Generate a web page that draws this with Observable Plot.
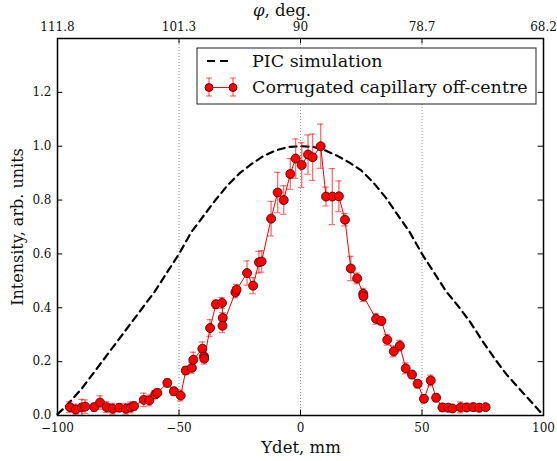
<!DOCTYPE html>
<html><head><meta charset="utf-8">
<script src="https://cdn.jsdelivr.net/npm/d3@7"></script>
<script src="https://cdn.jsdelivr.net/npm/@observablehq/plot@0.6"></script>
<style>body{margin:0;background:#fff} svg{display:block}</style>
</head><body><div id="chart"></div>
<script>
// Measured data: Corrugated capillary off-centre
const ydet = [-94.9, -92.5, -90.0, -88.6, -84.9, -82.5, -79.8, -77.3, -74.6, -71.9,
  -69.8, -68.5, -64.5, -62.2, -59.8, -58.9, -54.8, -52.1, -49.3, -47.2,
  -44.7, -44.1, -40.4, -39.7, -39.6, -37.2, -34.8, -32.3, -32.0, -32.1,
  -26.8, -26.3, -22.0, -19.5, -17.1, -16.0, -12.1, -9.4, -6.9, -4.2,
  -2.0, 0.5, 3.1, 5.0, 8.3, 10.5, 13.1, 15.8, 18.3, 20.7,
  23.3, 25.8, 25.9, 31.1, 33.3, 35.7, 38.4, 40.9, 43.3, 45.9,
  48.2, 50.8, 53.6, 55.8, 58.4, 60.8, 62.6, 65.9, 68.4, 71.1,
  73.6, 76.2];
const intensity = [0.031, 0.022, 0.030, 0.033, 0.031, 0.048, 0.031, 0.025, 0.029, 0.025,
  0.030, 0.035, 0.058, 0.056, 0.078, 0.084, 0.121, 0.090, 0.074, 0.167,
  0.177, 0.207, 0.248, 0.219, 0.211, 0.325, 0.413, 0.418, 0.362, 0.333,
  0.457, 0.467, 0.529, 0.482, 0.569, 0.572, 0.731, 0.828, 0.800, 0.897,
  0.954, 0.930, 0.969, 0.959, 1.000, 0.813, 0.813, 0.814, 0.727, 0.546,
  0.509, 0.452, 0.443, 0.359, 0.351, 0.281, 0.238, 0.259, 0.175, 0.152,
  0.118, 0.062, 0.130, 0.066, 0.030, 0.029, 0.026, 0.030, 0.030, 0.031,
  0.029, 0.031];
const errors = [0.02, 0.02, 0.03, 0.025, 0.015, 0.025, 0.02, 0.02, 0.015, 0.02,
  0.02, 0.015, 0.025, 0.02, 0.015, 0.015, 0.015, 0.015, 0.02, 0.015,
  0.02, 0.028, 0.025, 0.02, 0.02, 0.031, 0.015, 0.02, 0.02, 0.025,
  0.02, 0.02, 0.045, 0.03, 0.04, 0.04, 0.064, 0.075, 0.053, 0.057,
  0.073, 0.083, 0.073, 0.086, 0.082, 0.035, 0.104, 0.057, 0.023, 0.045,
  0.02, 0.02, 0.02, 0.02, 0.015, 0.02, 0.02, 0.02, 0.02, 0.015,
  0.015, 0.015, 0.02, 0.015, 0.015, 0.015, 0.01, 0.02, 0.015, 0.015,
  0.015, 0.01];

// PIC simulation curve
const picX = [-100, -97, -95, -90, -85, -80, -75, -70, -65, -60, -55, -50, -45, -40, -35, -30, -25, -20, -15, -10, -5, 0,
  5, 10, 15, 20, 25, 30, 35, 40, 45, 50, 55, 60, 65, 70, 75, 80, 85, 90, 95, 100];
const picY = [0.005, 0.03, 0.05, 0.10, 0.16, 0.22, 0.28, 0.34, 0.40, 0.46, 0.53, 0.60, 0.68, 0.74, 0.80, 0.855, 0.90, 0.935, 0.965, 0.985, 0.997, 1.0,
  0.998, 0.985, 0.965, 0.94, 0.91, 0.865, 0.81, 0.745, 0.68, 0.60, 0.53, 0.46, 0.405, 0.345, 0.275, 0.21, 0.15, 0.10, 0.05, 0.0];

const xTicks = [-100, -50, 0, 50, 100];
const xTickLabels = ["\u2212100", "\u221250", "0", "50", "100"];
const phiTickLabels = ["111.8", "101.3", "90", "78.7", "68.2"];
const gridX = [-50, 0, 50];
const yTicks = [0, 0.2, 0.4, 0.6, 0.8, 1.0, 1.2];
const yTickLabels = ["0.0", "0.2", "0.4", "0.6", "0.8", "1.0", "1.2"];

const meas = ydet.map((x, i) => ({x, y: intensity[i], e: errors[i]}));
const pic = picX.map((x, i) => ({x, y: picY[i]}));

const FONT = "DejaVu Serif";
const capHalf = 1.3;   // half cap width in x units
const tickLenX = 2.2;  // inward y-tick length in x units
const tickLenY = 0.02; // inward x-tick length in y units

const plot = Plot.plot({
  width: 557, height: 461,
  marginLeft: 57, marginRight: 14, marginTop: 38, marginBottom: 46,
  style: {fontFamily: FONT, fontSize: "12px", color: "#111", background: "#fff"},
  x: {domain: [-100, 100], axis: null},
  y: {domain: [0, 1.4], axis: null},
  marks: [
    Plot.ruleX(gridX, {x: d => d, stroke: "#777", strokeWidth: 0.8, strokeDasharray: "1,2"}),
    Plot.line(pic, {x: "x", y: "y", stroke: "black", strokeWidth: 2.2, strokeDasharray: "7,5"}),
    Plot.ruleX(meas, {x: "x", y1: d => d.y - d.e, y2: d => d.y + d.e, stroke: "red", strokeOpacity: 0.55, strokeWidth: 1.4}),
    Plot.ruleY(meas, {y: d => d.y + d.e, x1: d => d.x - capHalf, x2: d => d.x + capHalf, stroke: "red", strokeOpacity: 0.55, strokeWidth: 1.2}),
    Plot.ruleY(meas, {y: d => d.y - d.e, x1: d => d.x - capHalf, x2: d => d.x + capHalf, stroke: "red", strokeOpacity: 0.55, strokeWidth: 1.2}),
    Plot.line(meas, {x: "x", y: "y", stroke: "red", strokeWidth: 1}),
    Plot.dot(meas, {x: "x", y: "y", r: 4.5, fill: "red", stroke: "#3a0000", strokeWidth: 0.8}),
    // inward ticks
    Plot.ruleX(xTicks, {x: d => d, y1: 0, y2: tickLenY, stroke: "black"}),
    Plot.ruleX(xTicks, {x: d => d, y1: 1.4, y2: 1.4 - tickLenY, stroke: "black"}),
    Plot.ruleY(yTicks, {y: d => d, x1: -100, x2: -100 + tickLenX, stroke: "black"}),
    Plot.ruleY(yTicks, {y: d => d, x1: 100, x2: 100 - tickLenX, stroke: "black"}),
    Plot.axisX({anchor: "bottom", ticks: xTicks, tickSize: 0, tickPadding: 8, fontSize: 12,
      tickFormat: d => xTickLabels[xTicks.indexOf(d)], label: null}),
    Plot.axisX({anchor: "top", ticks: xTicks, tickSize: 0, tickPadding: 8, fontSize: 12,
      tickFormat: d => phiTickLabels[xTicks.indexOf(d)], label: null}),
    Plot.axisY({anchor: "left", ticks: yTicks, tickSize: 0, tickPadding: 6, fontSize: 12,
      tickFormat: d => yTickLabels[yTicks.indexOf(d)], label: null}),
    Plot.frame({stroke: "black", strokeWidth: 1.5})
  ]
});

const svg = d3.select(plot);
// axis titles
const topTitle = svg.append("text").attr("x", 282).attr("y", 16).attr("text-anchor", "middle")
  .attr("font-family", FONT).attr("font-size", 16.5).attr("fill", "#111");
topTitle.append("tspan").attr("font-style", "italic").text("\u03c6");
topTitle.append("tspan").text(", deg.");
svg.append("text").attr("x", 301).attr("y", 453).attr("text-anchor", "middle")
  .attr("font-family", FONT).attr("font-size", 16.5).attr("fill", "#111").text("Ydet, mm");
svg.append("text").attr("transform", "translate(22.7,227) rotate(-90)").attr("text-anchor", "middle")
  .attr("font-family", FONT).attr("font-size", 16).attr("fill", "#111").text("Intensity, arb. units");

// legend
const lg = svg.append("g");
lg.append("rect").attr("x", 197).attr("y", 48).attr("width", 339).attr("height", 56)
  .attr("fill", "white").attr("stroke", "#222").attr("stroke-width", 1);
lg.append("line").attr("x1", 207).attr("x2", 230).attr("y1", 61).attr("y2", 61)
  .attr("stroke", "black").attr("stroke-width", 2).attr("stroke-dasharray", "8,5");
lg.append("text").attr("x", 252).attr("y", 67).attr("text-anchor", "start").attr("font-family", FONT).attr("font-size", 17.5)
  .attr("fill", "#111").text("PIC simulation");
lg.append("line").attr("x1", 209).attr("x2", 233).attr("y1", 87.5).attr("y2", 87.5)
  .attr("stroke", "red").attr("stroke-width", 1);
for (const cx of [209, 233]) {
  lg.append("line").attr("x1", cx).attr("x2", cx).attr("y1", 78).attr("y2", 96)
    .attr("stroke", "red").attr("stroke-opacity", 0.55).attr("stroke-width", 1.4);
  for (const cy of [78, 96]) {
    lg.append("line").attr("x1", cx - 3).attr("x2", cx + 3).attr("y1", cy).attr("y2", cy)
      .attr("stroke", "red").attr("stroke-opacity", 0.55).attr("stroke-width", 1.2);
  }
  lg.append("circle").attr("cx", cx).attr("cy", 87.5).attr("r", 4).attr("fill", "red")
    .attr("stroke", "#3a0000").attr("stroke-width", 0.8);
}
lg.append("text").attr("x", 252).attr("y", 93).attr("text-anchor", "start").attr("font-family", FONT).attr("font-size", 17.5)
  .attr("fill", "#111").text("Corrugated capillary off-centre");

document.getElementById("chart").appendChild(plot);
</script>
</body></html>
